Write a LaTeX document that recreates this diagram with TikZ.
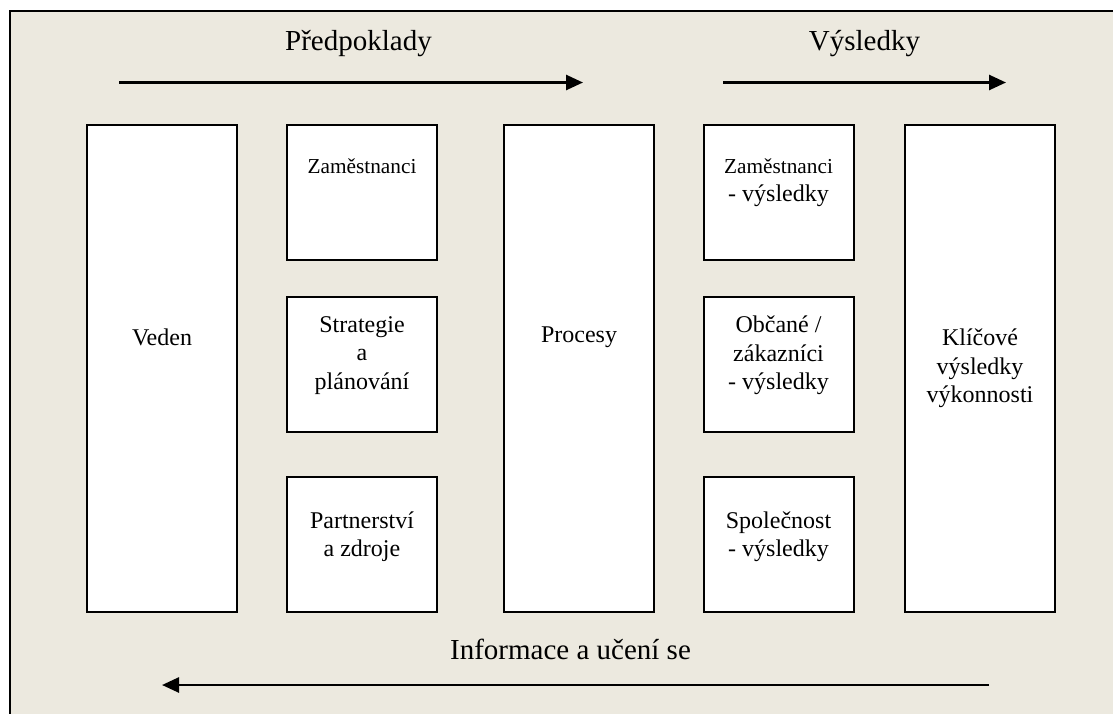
\documentclass[tikz,border=0pt]{standalone}
\usepackage{fontspec}
\setmainfont{Liberation Serif}
\usetikzlibrary{arrows.meta}
\definecolor{panel}{RGB}{236,233,223}
\begin{document}
\begin{tikzpicture}[x=1pt,y=-1pt,
  box/.style={draw=black, line width=2pt, fill=white, inner sep=0pt,
    minimum width=150pt},
  tall/.style={box, minimum height=487pt},
  small/.style={box, minimum height=135pt},
  txt/.style={inner sep=0pt, align=center, font=\fontsize{24}{28.3}\selectfont},
  head/.style={font=\fontsize{29}{34}\selectfont, anchor=base, inner sep=0pt},
  flow/.style={line width=2.6pt, -{Triangle[length=17pt,width=15pt]}}]
\useasboundingbox (0,0) rectangle (1113,713);
% panel background and its frame (open to the right and bottom)
\fill[panel] (10,11) rectangle (1120,720);
\draw[line width=1.8pt] (10,720) -- (10,11) -- (1120,11);

% headings
\node[head] (hpred) at (358.5,50) {Předpoklady};
\node[head] (hvys) at (864.5,50) {Výsledky};
\node[head] (hinfo) at (570.5,659) {Informace a učení se};

% flow arrows
\coordinate (a1s) at (119,82.5);
\coordinate (a1e) at (583,82.5);
\coordinate (a2s) at (723,82.5);
\coordinate (a2e) at (1006,82.5);
\coordinate (a3s) at (989,685);
\coordinate (a3e) at (162,685);
\draw[flow] (a1s) -- (a1e);
\draw[flow] (a2s) -- (a2e);
\draw[flow] (a3s) -- (a3e);

% enablers
\node[tall] (veden) at (162,368.5) {};
\node[small] (zam) at (362,192.5) {};
\node[small] (strat) at (362,364.5) {};
\node[small] (part) at (362,544.5) {};
\node[tall] (proc) at (579,368.5) {};

% results
\node[small] (zamv) at (778.5,192.5) {};
\node[small] (obc) at (778.5,364.5) {};
\node[small] (spol) at (778.5,544.5) {};
\node[tall] (klic) at (980,368.5) {};

% box texts
\node[txt] (veden-t) at ([yshift=31pt]veden.center) {Veden};
\node[txt] (zam-t) at ([yshift=26pt]zam.center) {\fontsize{21.3}{28.3}\selectfont Zaměstnanci};
\node[txt] (strat-t) at ([yshift=9pt]strat.center) {Strategie\\a\\plánování};
\node[txt] (part-t) at ([yshift=8pt]part.center) {Partnerství\\a zdroje};
\node[txt] (proc-t) at ([yshift=31pt]proc.center) {Procesy};
\node[txt] (zamv-t) at ([yshift=10pt]zamv.center) {{\fontsize{21.3}{28.3}\selectfont Zaměstnanci}\\- výsledky};
\node[txt] (obc-t) at ([yshift=9pt]obc.center) {Občané /\\zákazníci\\- výsledky};
\node[txt] (spol-t) at ([yshift=8pt]spol.center) {Společnost\\- výsledky};
\node[txt] (klic-t) at (klic.center) {Klíčové\\výsledky\\výkonnosti};
\end{tikzpicture}
\end{document}
